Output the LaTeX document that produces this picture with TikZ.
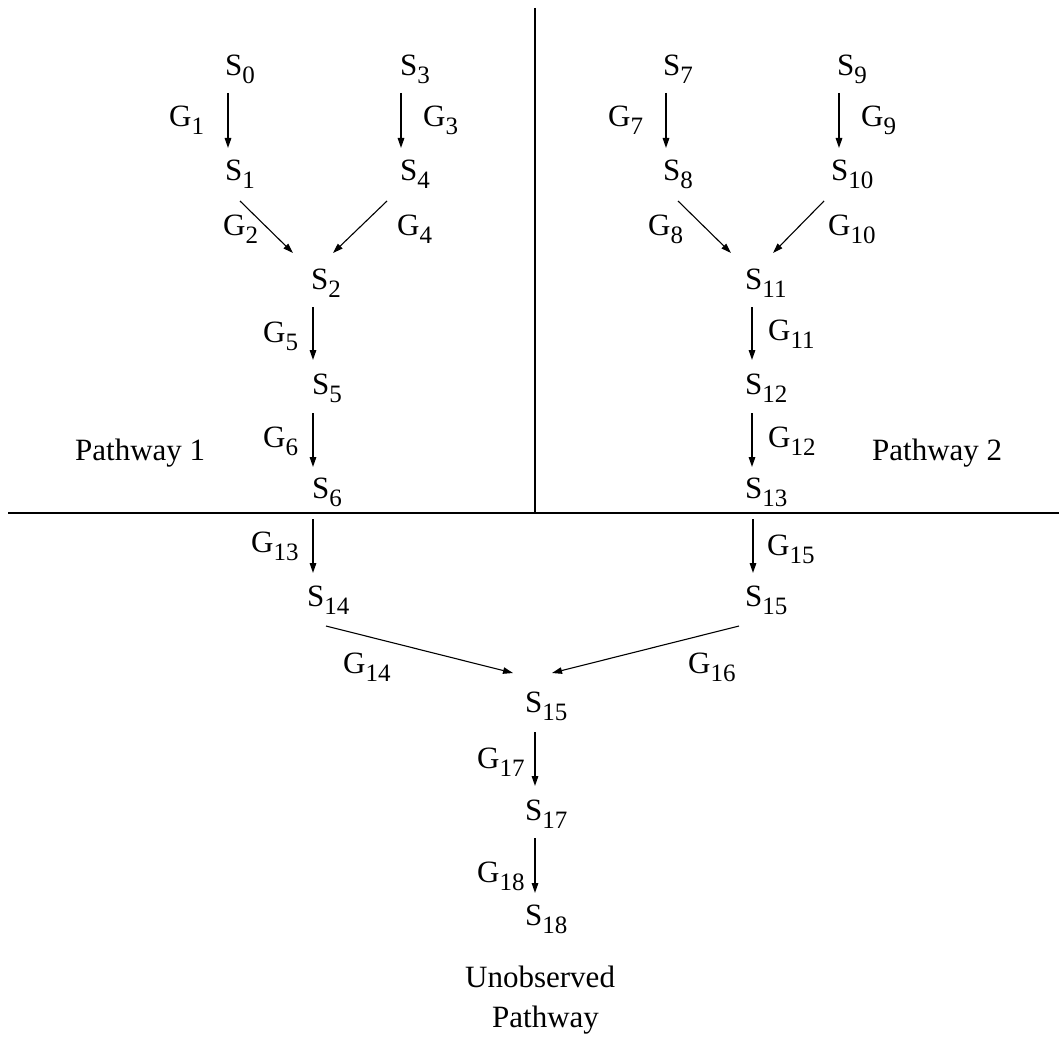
\documentclass[tikz,border=0pt]{standalone}
\usepackage{fontspec}
\setmainfont{Liberation Serif}
\usetikzlibrary{arrows.meta,calc}
\newcommand\lsub[2]{#1\raisebox{-8pt}{\fontsize{25}{25}\selectfont #2}}
\tikzset{
  txt/.style={inner sep=0pt, anchor=base west, font=\fontsize{31}{37}\selectfont},
  varr/.style={line width=1.5pt, -{Triangle[length=10pt,width=6.5pt]}},
  darr/.style={line width=1.1pt, -{Triangle[length=10pt,width=6.5pt]}},
  divider/.style={line width=2.5pt}
}
\begin{document}
\begin{tikzpicture}[x=1pt,y=-1pt]
\useasboundingbox (0,0) rectangle (1059,1043);
% dividers
\coordinate (hl) at (8,513);
\coordinate (hr) at (1059,513);
\coordinate (vt) at (535,8);
\coordinate (vb) at (535,513);
\draw[divider] (hl) -- (hr);
\draw[divider] (vt) -- (vb);
% state nodes
\node[txt] (S0) at (225,76) {\lsub{S}{0}};
\node[txt] (S3) at (400,76) {\lsub{S}{3}};
\node[txt] (S7) at (663,76) {\lsub{S}{7}};
\node[txt] (S9) at (837,76) {\lsub{S}{9}};
\node[txt] (S1) at (225,181) {\lsub{S}{1}};
\node[txt] (S4) at (400,181) {\lsub{S}{4}};
\node[txt] (S8) at (663,181) {\lsub{S}{8}};
\node[txt] (S10) at (831,181) {\lsub{S}{10}};
\node[txt] (S2) at (311,289) {\lsub{S}{2}};
\node[txt] (S11) at (745,289) {\lsub{S}{11}};
\node[txt] (S5) at (312,394) {\lsub{S}{5}};
\node[txt] (S12) at (745,394) {\lsub{S}{12}};
\node[txt] (S6) at (312,498) {\lsub{S}{6}};
\node[txt] (S13) at (745,498) {\lsub{S}{13}};
\node[txt] (S14) at (307,606) {\lsub{S}{14}};
\node[txt] (S15r) at (745,606) {\lsub{S}{15}};
\node[txt] (S15) at (525,712) {\lsub{S}{15}};
\node[txt] (S17) at (525,820) {\lsub{S}{17}};
\node[txt] (S18) at (525,925) {\lsub{S}{18}};
% G labels
\node[txt] (G1) at (169,127) {\lsub{G}{1}};
\node[txt] (G3) at (423,127) {\lsub{G}{3}};
\node[txt] (G7) at (608,127) {\lsub{G}{7}};
\node[txt] (G9) at (861,127) {\lsub{G}{9}};
\node[txt] (G2) at (223,235) {\lsub{G}{2}};
\node[txt] (G4) at (397,235) {\lsub{G}{4}};
\node[txt] (G8) at (648,235) {\lsub{G}{8}};
\node[txt] (G10) at (828,235) {\lsub{G}{10}};
\node[txt] (G5) at (263,342) {\lsub{G}{5}};
\node[txt] (G6) at (263,447) {\lsub{G}{6}};
\node[txt] (G11) at (768,340) {\lsub{G}{11}};
\node[txt] (G12) at (768,447) {\lsub{G}{12}};
\node[txt] (G13) at (251,552) {\lsub{G}{13}};
\node[txt] (G15) at (767,555) {\lsub{G}{15}};
\node[txt] (G14) at (343,673) {\lsub{G}{14}};
\node[txt] (G16) at (688,673) {\lsub{G}{16}};
\node[txt] (G17) at (477,768) {\lsub{G}{17}};
\node[txt] (G18) at (477,882) {\lsub{G}{18}};
% region labels
\node[txt] (P1) at (75,460) {Pathway 1};
\node[txt] (P2) at (872,460) {Pathway 2};
\node[txt] (U1) at (465,987) {Unobserved};
\node[txt] (U2) at (492,1027) {Pathway};
% vertical arrows
\draw[varr] ($(S0.base west)+(3,17)$) -- ($(S1.base west)+(3,-33)$);
\draw[varr] ($(S3.base west)+(1,17)$) -- ($(S4.base west)+(1,-33)$);
\draw[varr] ($(S7.base west)+(3,17)$) -- ($(S8.base west)+(3,-33)$);
\draw[varr] ($(S9.base west)+(2,17)$) -- ($(S10.base west)+(8,-33)$);
\draw[varr] ($(S2.base west)+(2,18)$) -- ($(S5.base west)+(1,-34)$);
\draw[varr] ($(S5.base west)+(1,19)$) -- ($(S6.base west)+(1,-31)$);
\draw[varr] ($(S11.base west)+(7,18)$) -- ($(S12.base west)+(7,-34)$);
\draw[varr] ($(S12.base west)+(7,19)$) -- ($(S13.base west)+(7,-31)$);
\draw[varr] ($(S6.base west)+(1,21)$) -- ($(S14.base west)+(6,-33)$);
\draw[varr] ($(S13.base west)+(8,21)$) -- ($(S15r.base west)+(8,-33)$);
\draw[varr] ($(S15.base west)+(10,20)$) -- ($(S17.base west)+(10,-34)$);
\draw[varr] ($(S17.base west)+(10,18)$) -- ($(S18.base west)+(10,-32)$);
% diagonal arrows
\draw[darr] ($(S1.base west)+(15,20)$) -- ($(S2.base west)+(-18,-36)$);
\draw[darr] ($(S4.base west)+(-13,20)$) -- ($(S2.base west)+(22,-36)$);
\draw[darr] ($(S8.base west)+(15,20)$) -- ($(S11.base west)+(-14,-36)$);
\draw[darr] ($(S10.base west)+(-7,20)$) -- ($(S11.base west)+(28,-36)$);
\draw[darr] ($(S14.base west)+(19,20)$) -- ($(S15.base west)+(-12,-39)$);
\draw[darr] ($(S15r.base west)+(-6,20)$) -- ($(S15.base west)+(27,-39)$);
\end{tikzpicture}
\end{document}
